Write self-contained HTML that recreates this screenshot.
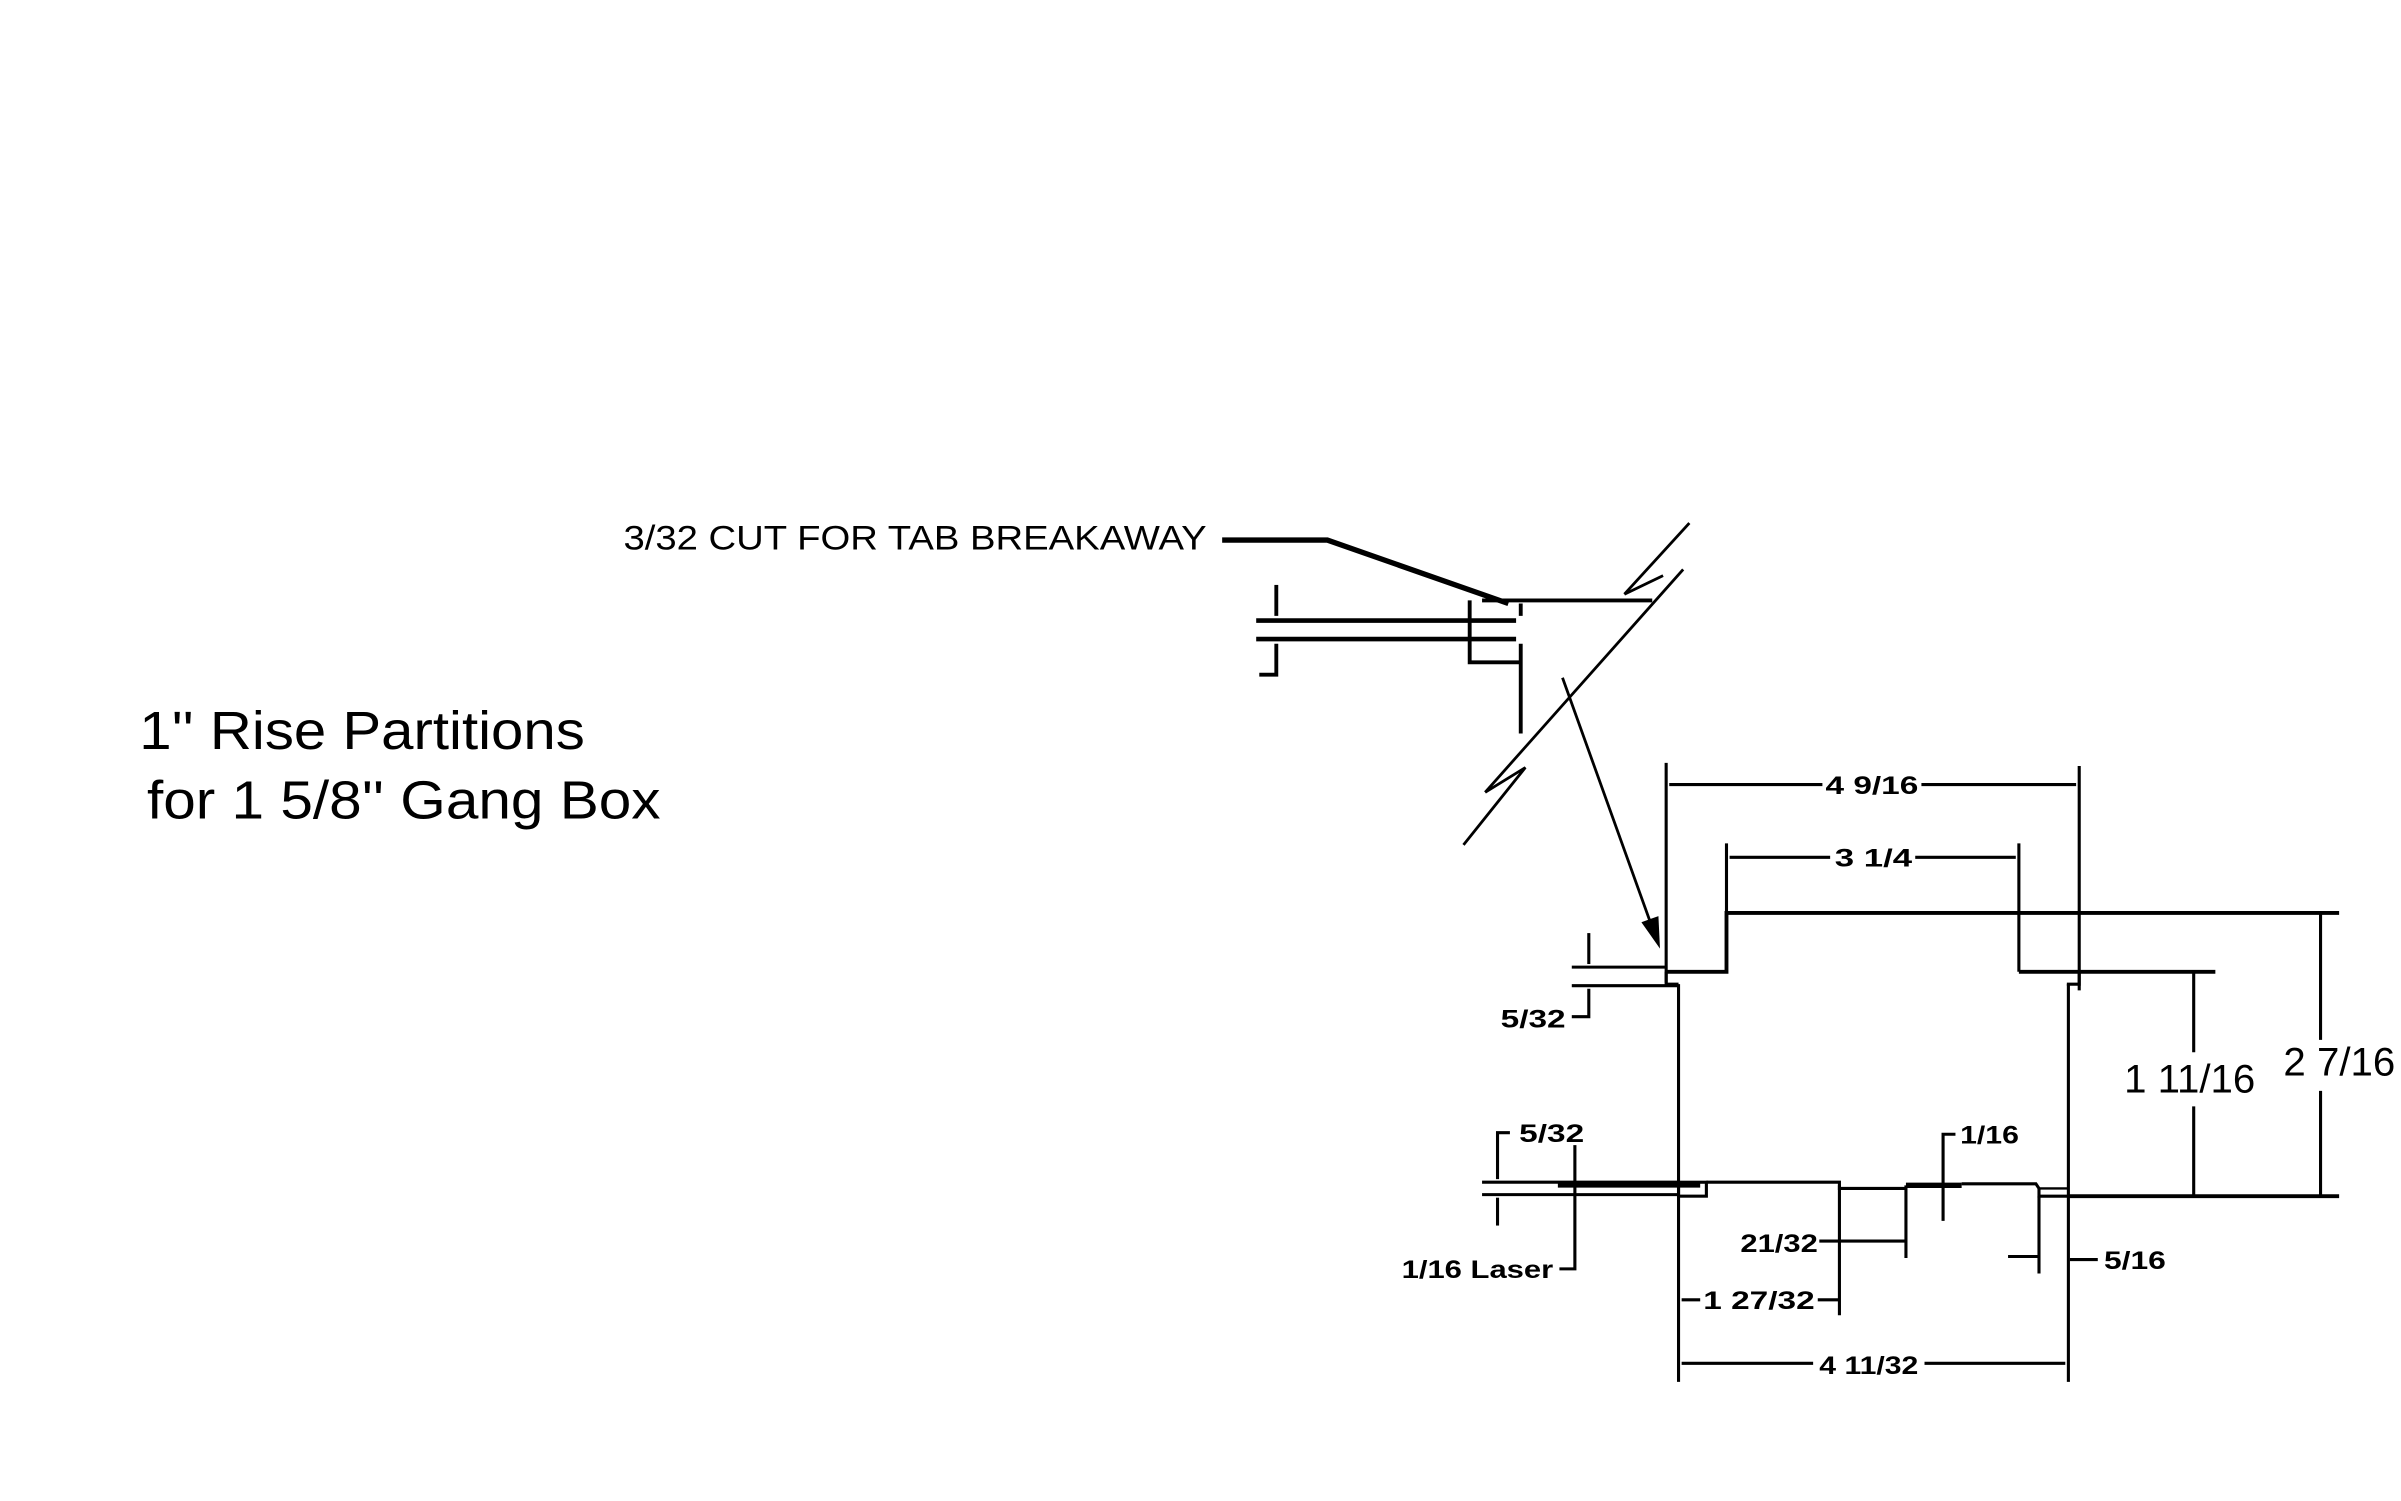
<!DOCTYPE html>
<html><head><meta charset="utf-8"><style>
html,body{margin:0;padding:0;background:#fff;}
svg{display:block;}
.t{font-family:"Liberation Sans",sans-serif;fill:#000;}
.d{font-family:"Liberation Sans",sans-serif;font-weight:bold;font-size:16px;fill:#000;}
</style></head><body>
<svg width="2401" height="1501" viewBox="0 0 1552 970" preserveAspectRatio="none" xmlns="http://www.w3.org/2000/svg">
<rect width="1552" height="970" fill="#fff"/>
<text class="t" x="90" y="484" font-size="35" textLength="288" lengthAdjust="spacingAndGlyphs">1'' Rise Partitions</text>
<text class="t" x="95" y="529" font-size="35" textLength="332" lengthAdjust="spacingAndGlyphs">for 1 5/8'' Gang Box</text>
<text class="t" x="403" y="355" font-size="22" textLength="377" lengthAdjust="spacingAndGlyphs">3/32 CUT FOR TAB BREAKAWAY</text>
<g stroke="#000" fill="none" stroke-linecap="butt">
<polyline points="790,349 858,349 975,390" stroke-width="3.5"/>
<polyline points="958,388 1068,388" stroke-width="2.5"/>
<polyline points="983,398 983,390" stroke-width="2.5"/>
<polyline points="983,416 983,474" stroke-width="2.5"/>
<polyline points="950,388 950,428 983,428" stroke-width="2.5"/>
<line x1="812" y1="401" x2="980" y2="401" stroke-width="3"/>
<line x1="812" y1="413" x2="980" y2="413" stroke-width="3"/>
<line x1="825" y1="378" x2="825" y2="398" stroke-width="2.5"/>
<polyline points="825,416 825,436 814,436" stroke-width="2.5"/>
<line x1="1092" y1="338" x2="1050" y2="384" stroke-width="1.8"/>
<polyline points="1050,384 1075,372" stroke-width="1.8"/>
<line x1="1088" y1="368" x2="960" y2="512" stroke-width="1.8"/>
<polyline points="960,512 986,496 946,546" stroke-width="1.8"/>
<line x1="1010" y1="438" x2="1070" y2="605" stroke-width="1.8"/>
<polygon points="1073,613 1061,596 1072,592" fill="#000" stroke="none"/>
<line x1="1077" y1="493" x2="1077" y2="635" stroke-width="2"/>
<line x1="1344" y1="495" x2="1344" y2="640" stroke-width="2"/>
<line x1="1079" y1="507" x2="1178" y2="507" stroke-width="2"/>
<line x1="1242" y1="507" x2="1342" y2="507" stroke-width="2"/>
<line x1="1116" y1="545" x2="1116" y2="590" stroke-width="2"/>
<line x1="1305" y1="545" x2="1305" y2="628" stroke-width="2"/>
<line x1="1118" y1="554" x2="1183" y2="554" stroke-width="2"/>
<line x1="1238" y1="554" x2="1303" y2="554" stroke-width="2"/>
<polyline points="1077,628 1116,628 1116,590 1512,590" stroke-width="2.5"/>
<polyline points="1305,628 1344,628 1432,628" stroke-width="2.5"/>
<polyline points="1077,628 1077,636 1085,636" stroke-width="2"/>
<polyline points="1344,628 1344,636 1336,636" stroke-width="2"/>
<line x1="1085" y1="636" x2="1085" y2="893" stroke-width="2"/>
<line x1="1337" y1="636" x2="1337" y2="893" stroke-width="2"/>
<line x1="1418" y1="628" x2="1418" y2="680" stroke-width="2"/>
<line x1="1418" y1="715" x2="1418" y2="773" stroke-width="2"/>
<line x1="1500" y1="590" x2="1500" y2="672" stroke-width="2"/>
<line x1="1500" y1="705" x2="1500" y2="773" stroke-width="2"/>
<line x1="1337" y1="773" x2="1512" y2="773" stroke-width="2.5"/>
<line x1="1016" y1="625" x2="1077" y2="625" stroke-width="2"/>
<line x1="1016" y1="637" x2="1085" y2="637" stroke-width="2"/>
<line x1="1027" y1="603" x2="1027" y2="623" stroke-width="2"/>
<polyline points="1027,639 1027,657 1016,657" stroke-width="2"/>
<line x1="958" y1="764" x2="1085" y2="764" stroke-width="2"/>
<line x1="958" y1="772" x2="1085" y2="772" stroke-width="2"/>
<line x1="1007" y1="766" x2="1099" y2="766" stroke-width="3"/>
<rect x="1085" y="764" width="18" height="9" stroke-width="2"/>
<polyline points="976,732 968,732 968,762" stroke-width="2"/>
<line x1="968" y1="774" x2="968" y2="792" stroke-width="2"/>
<polyline points="1018,740 1018,820 1008,820" stroke-width="2"/>
<polyline points="1103,764 1189,764 1189,768 1232,768" stroke-width="2"/>
<line x1="1232" y1="766" x2="1268" y2="766" stroke-width="3.5"/>
<polyline points="1268,765 1316,765 1318,768 1318,773 1337,773" stroke-width="2"/>
<line x1="1318" y1="768" x2="1337" y2="768" stroke-width="1.5"/>
<line x1="1189" y1="766" x2="1189" y2="850" stroke-width="2"/>
<line x1="1232" y1="766" x2="1232" y2="813" stroke-width="2"/>
<polyline points="1264,733 1256,733 1256,789" stroke-width="2"/>
<line x1="1318" y1="773" x2="1318" y2="823" stroke-width="2"/>
<line x1="1176" y1="802" x2="1189" y2="802" stroke-width="2"/>
<line x1="1189" y1="802" x2="1232" y2="802" stroke-width="2"/>
<line x1="1298" y1="812" x2="1318" y2="812" stroke-width="2"/>
<line x1="1338" y1="814" x2="1356" y2="814" stroke-width="2"/>
<line x1="1087" y1="840" x2="1099" y2="840" stroke-width="2"/>
<line x1="1175" y1="840" x2="1189" y2="840" stroke-width="2"/>
<line x1="1087" y1="881" x2="1172" y2="881" stroke-width="2"/>
<line x1="1244" y1="881" x2="1335" y2="881" stroke-width="2"/>
</g>
<text class="d" x="1180" y="513" textLength="60" lengthAdjust="spacingAndGlyphs">4 9/16</text>
<text class="d" x="1186" y="560" textLength="50" lengthAdjust="spacingAndGlyphs">3 1/4</text>
<text class="d" x="970" y="664" textLength="42" lengthAdjust="spacingAndGlyphs">5/32</text>
<text class="d" x="982" y="738" textLength="42" lengthAdjust="spacingAndGlyphs">5/32</text>
<text class="d" x="906" y="826" textLength="98" lengthAdjust="spacingAndGlyphs">1/16 Laser</text>
<text class="d" x="1125" y="809" textLength="50" lengthAdjust="spacingAndGlyphs">21/32</text>
<text class="d" x="1267" y="739" textLength="38" lengthAdjust="spacingAndGlyphs">1/16</text>
<text class="d" x="1360" y="820" textLength="40" lengthAdjust="spacingAndGlyphs">5/16</text>
<text class="d" x="1101" y="846" textLength="72" lengthAdjust="spacingAndGlyphs">1 27/32</text>
<text class="d" x="1176" y="888" textLength="64" lengthAdjust="spacingAndGlyphs">4 11/32</text>
<text class="t" x="1373" y="706" font-size="26">1 11/16</text>
<text class="t" x="1476" y="695" font-size="26">2 7/16</text>
</svg>
</body></html>
